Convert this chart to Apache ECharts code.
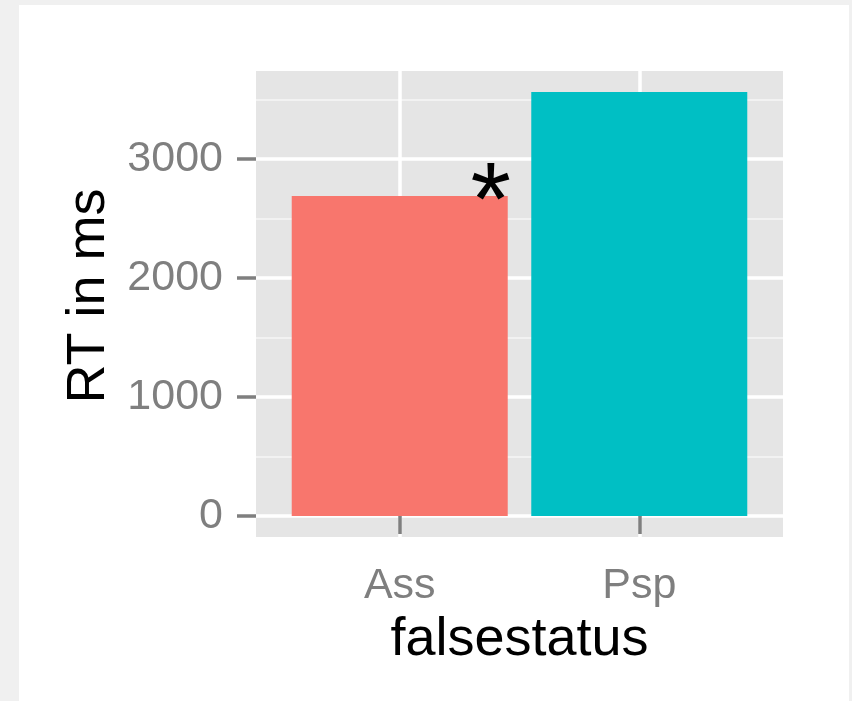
<!DOCTYPE html>
<html>
<head>
<meta charset="utf-8">
<script src="https://cdn.jsdelivr.net/npm/echarts@6/dist/echarts.min.js"></script>
<style>
  html, body { margin: 0; padding: 0; background: #f0f0f0; }
  #frame { position: absolute; left: 19px; top: 5px; width: 830px; height: 696px; background: #ffffff; }
  #main { position: absolute; left: 0; top: 0; width: 852px; height: 701px; }
</style>
</head>
<body>
<div id="frame"></div>
<div id="main"></div>
<script>
// data
var categories = ['Ass', 'Psp'];
var rtValues = [2689, 3564];
var barColors = ['#F8766D', '#00BFC4'];
var yTicks = [0, 1000, 2000, 3000];
var xTicks = [1, 2];          // position of each category on the x scale
var starCategory = 'Ass';     // significance mark

var chart = echarts.init(document.getElementById('main'));

var barData = categories.map(function (c, i) {
  var item = {
    value: [xTicks[i], rtValues[i]],
    itemStyle: { color: barColors[i] }
  };
  if (c === starCategory) {
    item.label = {
      show: true,
      position: 'top',
      formatter: '*',
      fontFamily: 'Liberation Sans',
      fontSize: 104,
      color: '#000000',
      offset: [91, 67]
    };
  }
  return item;
});

var option = {
  backgroundColor: 'transparent',
  animation: false,
  textStyle: { fontFamily: 'Liberation Sans' },
  grid: {
    left: 256, top: 71, right: 69, bottom: 164,
    show: true, backgroundColor: '#e5e5e5', borderWidth: 0,
    containLabel: false
  },
  xAxis: {
    type: 'value',
    min: 0.4, max: 2.6,
    splitNumber: 2,
    name: 'falsestatus',
    nameLocation: 'middle',
    nameGap: 76,
    nameTextStyle: { fontSize: 54, color: '#000000', fontFamily: 'Liberation Sans' },
    axisLine: { show: false },
    axisTick: {
      show: true, length: 18, customValues: xTicks,
      lineStyle: { color: '#7f7f7f', width: 3.5 }
    },
    axisLabel: {
      show: true, customValues: xTicks, margin: 28,
      fontSize: 43, color: '#7f7f7f', fontFamily: 'Liberation Sans',
      formatter: function (v) { return categories[Math.round(v) - 1] || ''; }
    },
    splitLine: {
      show: true,
      lineStyle: { color: '#ffffff', width: 3.5 }
    }
  },
  yAxis: {
    type: 'value',
    min: -177, max: 3740,
    name: 'RT in ms',
    nameLocation: 'middle',
    nameGap: 117,
    nameTextStyle: {
      fontSize: 54, color: '#000000', fontFamily: 'Liberation Sans',
      padding: [0, 0, 0, 16]
    },
    axisLine: { show: false },
    axisTick: {
      show: true, length: 19, customValues: yTicks,
      lineStyle: { color: '#7f7f7f', width: 3.5 }
    },
    axisLabel: {
      show: true, customValues: yTicks, margin: 33,
      fontSize: 43, color: '#7f7f7f', fontFamily: 'Liberation Sans',
      formatter: function (v) { return String(v); }
    },
    splitLine: {
      show: true,
      lineStyle: { color: '#ffffff', width: 3.5 }
    },
    minorTick: { show: false, splitNumber: 2 },
    minorSplitLine: { show: true, lineStyle: { color: '#f2f2f2', width: 1.8 } }
  },
  series: [
    {
      type: 'bar',
      barWidth: 216,
      data: barData
    }
  ]
};

chart.setOption(option);
</script>
</body>
</html>
